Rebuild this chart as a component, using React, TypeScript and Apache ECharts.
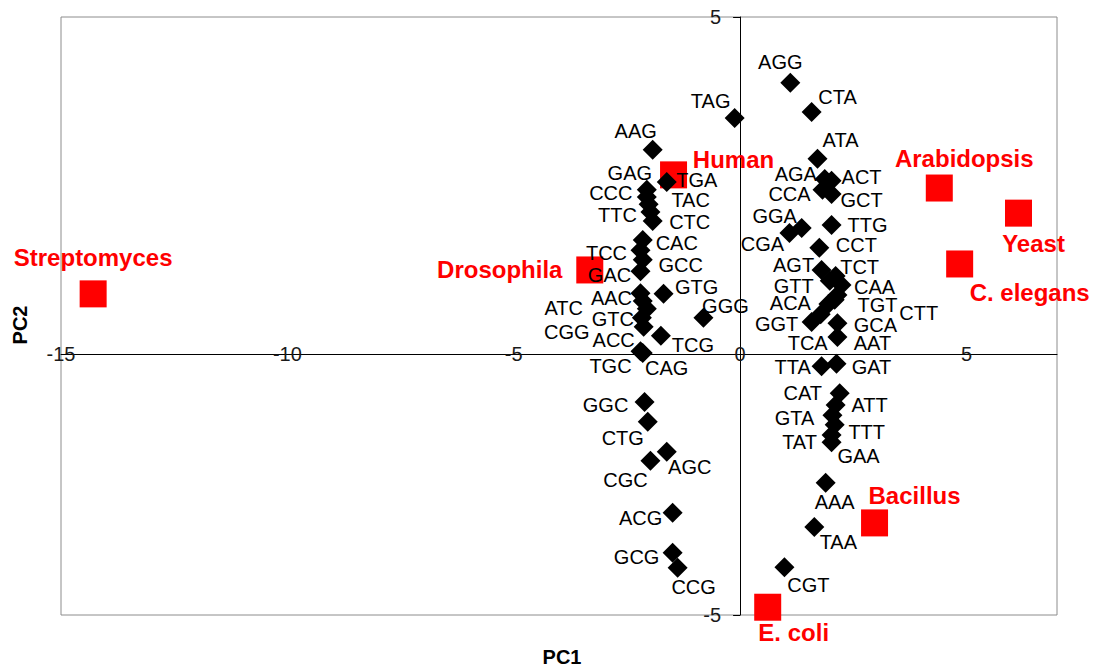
import React, { useEffect, useRef } from "react";
import * as echarts from "echarts";

// ---------- data ----------
const codons = [
  "TAG", "AAG", "TGA", "GAG", "CCC", "TAC", "TTC", "CTC", "CAC", "TCC", "GCC", "GAC",
  "GTG", "AAC", "ATC", "GTC", "CGG", "ACC", "GGG", "TCG", "TGC", "CAG", "GGC", "CTG",
  "AGC", "CGC", "ACG", "GCG", "CCG",
  "AGG", "CTA", "ATA", "AGA", "ACT", "CCA", "GCT", "GGA", "CGA", "TTG", "CCT", "AGT",
  "TCT", "GTT", "CAA", "TGT", "CTT", "ACA", "TCA", "GGT", "GCA", "AAT", "TTA", "GAT",
  "CAT", "ATT", "GTA", "TTT", "TAT", "GAA", "AAA", "TAA", "CGT",
];
const codonPC1 = [
  -0.12, -1.93, -1.62, -2.06, -2.06, -2.02, -1.98, -1.93, -2.15, -2.2, -2.15, -2.2,
  -1.69, -2.2, -2.15, -2.06, -2.17, -2.13, -0.81, -1.75, -2.2, -2.15, -2.11, -2.04,
  -1.62, -1.98, -1.49, -1.49, -1.38,
  1.11, 1.58, 1.71, 1.87, 2.02, 1.82, 2.02, 1.36, 1.09, 2.02, 1.75, 1.8,
  2.11, 1.98, 2.24, 2.15, 2.09, 1.95, 1.78, 1.58, 2.15, 2.15, 1.8, 2.13,
  2.2, 2.11, 2.04, 2.09, 2.02, 2.02, 1.89, 1.64, 0.98,
];
const codonPC2 = [
  3.31, 2.78, 2.24, 2.11, 1.99, 1.87, 1.74, 1.59, 1.27, 1.1, 0.94, 0.75,
  0.37, 0.38, 0.25, 0.12, -0.03, -0.18, -0.03, -0.33, -0.59, -0.62, -1.44, -1.77,
  -2.27, -2.42, -3.29, -3.96, -4.21,
  3.9, 3.41, 2.63, 2.29, 2.26, 2.11, 2.04, 1.47, 1.39, 1.52, 1.14, 0.77,
  0.67, 0.59, 0.52, 0.35, 0.27, 0.2, 0.03, -0.1, -0.12, -0.35, -0.84, -0.8,
  -1.29, -1.49, -1.66, -1.82, -1.99, -2.11, -2.79, -3.53, -4.2,
];

const organisms = ["Human", "Arabidopsis", "Yeast", "C. elegans", "Drosophila", "Streptomyces", "Bacillus", "E. coli"];
const organismPC1 = [-1.47, 4.4, 6.15, 4.85, -3.32, -14.29, 2.97, 0.61];
const organismPC2 = [2.36, 2.14, 1.72, 0.87, 0.77, 0.37, -3.46, -4.87];

const xTicks = [-15, -10, -5, 0, 5];
const yTicks = [-5, 5];
const xMin = -15;
const xMax = 7;
const yMin = -5;
const yMax = 5;
const xAxisCrossesAt = -0.635; // PC2 value where the PC1 axis line is drawn
const yAxisCrossesAt = 0; // PC1 value where the PC2 axis line is drawn

// ---------- label placement (style, px offsets from marker centre) ----------
const codonLabelOffset: Record<string, [number, number]> = {
  TAG: [-24, -17], AAG: [-17, -19], TGA: [30, -2], GAG: [-17, -17], CCC: [-36, -4],
  TAC: [42, -4], TTC: [-33, 3], CTC: [37, 1], CAC: [34, 3], TCC: [-34, 3], GCC: [38, 5],
  GAC: [-31, 4], GTG: [33, -7], AAC: [-29, 5], ATC: [-79, 7], GTC: [-34, 10],
  CGG: [-75, 14], ACC: [-30, 13], GGG: [22, -12], TCG: [32, 9], TGC: [-30, 15],
  CAG: [24, 15], GGC: [-39, 3], CTG: [-25, 16], AGC: [23, 15], CGC: [-25, 19],
  ACG: [-32, 5], GCG: [-36, 4], CCG: [16, 19],
  AGG: [-10, -21], CTA: [26, -15], ATA: [23, -19], AGA: [-29, -5], ACT: [30, -4],
  CCA: [-33, 4], GCT: [30, 6], GGA: [-27, -12], CGA: [-27, 11], TTG: [36, 0],
  CCT: [37, -3], AGT: [-28, -5], TCT: [24, -9], GTT: [-36, 5], CAA: [33, 2],
  TGT: [40, 10], CTT: [84, 13], ACA: [-38, -1], TCA: [-13, 29], GGT: [-35, 2],
  GCA: [38, 2], AAT: [35, 6], TTA: [-29, 1], GAT: [35, 3], CAT: [-37, 0],
  ATT: [34, 0], GTA: [-38, 3], TTT: [32, 7], TAT: [-32, 7], GAA: [27, 14],
  AAA: [9, 19], TAA: [24, 15], CGT: [24, 18],
};
const organismLabelOffset: Record<string, [number, number]> = {
  Human: [60, -15], Arabidopsis: [25, -30], Yeast: [15, 30], "C. elegans": [70, 29],
  Drosophila: [-90, 0], Streptomyces: [0, -36], Bacillus: [40, -27], "E. coli": [26, 25],
};

const FONT = '"Liberation Sans", Arial, Helvetica, sans-serif';
const W = 1097;
const H = 668;
const GRID = { left: 61, top: 17, right: 40, bottom: 53 };

export default function App() {
  const ref = useRef<HTMLDivElement>(null);

  useEffect(() => {
    if (!ref.current) return;
    const chart = echarts.init(ref.current, undefined, { renderer: "svg" });
    const gridH = H - GRID.top - GRID.bottom;
    const gridW = W - GRID.left - GRID.right;
    const xAxisOffset = -((xAxisCrossesAt - yMin) / (yMax - yMin)) * gridH;
    const yAxisOffset = -((yAxisCrossesAt - xMin) / (xMax - xMin)) * gridW;

    chart.setOption({
      animation: false,
      backgroundColor: "#ffffff",
      grid: { ...GRID, show: true, borderColor: "#8c8c8c", borderWidth: 1, backgroundColor: "transparent" },
      xAxis: {
        type: "value",
        min: xMin,
        max: xMax,
        position: "bottom",
        offset: xAxisOffset,
        axisLine: { show: true, onZero: false, lineStyle: { color: "#000", width: 1 } },
        axisTick: { show: false },
        splitLine: { show: false },
        axisLabel: {
          customValues: xTicks,
          margin: 0,
          verticalAlign: "middle",
          fontSize: 20,
          fontFamily: FONT,
          color: "#1a1a1a",
        },
      },
      yAxis: {
        type: "value",
        min: yMin,
        max: yMax,
        position: "left",
        offset: yAxisOffset,
        axisLine: { show: true, onZero: false, lineStyle: { color: "#000", width: 1 } },
        axisTick: { show: true, customValues: yTicks, length: 7, lineStyle: { color: "#000" } },
        splitLine: { show: false },
        axisLabel: {
          customValues: yTicks,
          margin: 19,
          fontSize: 20,
          fontFamily: FONT,
          color: "#1a1a1a",
        },
      },
      graphic: [
        {
          type: "text",
          x: 562,
          y: 657,
          style: { text: "PC1", font: `bold 20px ${FONT}`, fill: "#000", align: "center", verticalAlign: "middle" },
        },
        {
          type: "text",
          x: 20,
          y: 325,
          rotation: Math.PI / 2,
          style: { text: "PC2", font: `bold 20px ${FONT}`, fill: "#000", align: "center", verticalAlign: "middle" },
        },
      ],
      series: [
        {
          type: "scatter",
          name: "Organisms",
          symbol: "rect",
          symbolSize: 27,
          itemStyle: { color: "#ff0000", opacity: 1 },
          z: 2,
          label: {
            show: true,
            position: "inside",
            formatter: "{b}",
            color: "#ff0000",
            fontWeight: "bold",
            fontSize: 24,
            fontFamily: FONT,
          },
          data: organisms.map((n, i) => ({
            name: n,
            value: [organismPC1[i], organismPC2[i]],
            label: { offset: organismLabelOffset[n] },
          })),
        },
        {
          type: "scatter",
          name: "Codons",
          symbol: "diamond",
          symbolSize: 20,
          itemStyle: { color: "#000000", opacity: 1 },
          z: 3,
          label: {
            show: true,
            position: "inside",
            formatter: "{b}",
            color: "#000000",
            fontSize: 20,
            fontFamily: FONT,
          },
          data: codons.map((c, i) => ({
            name: c,
            value: [codonPC1[i], codonPC2[i]],
            label: { offset: codonLabelOffset[c] },
          })),
        },
      ],
    });

    return () => chart.dispose();
  }, []);

  return (
    <div
      ref={ref}
      style={{ position: "fixed", left: 0, top: 0, width: W, height: H, background: "#fff" }}
    />
  );
}
